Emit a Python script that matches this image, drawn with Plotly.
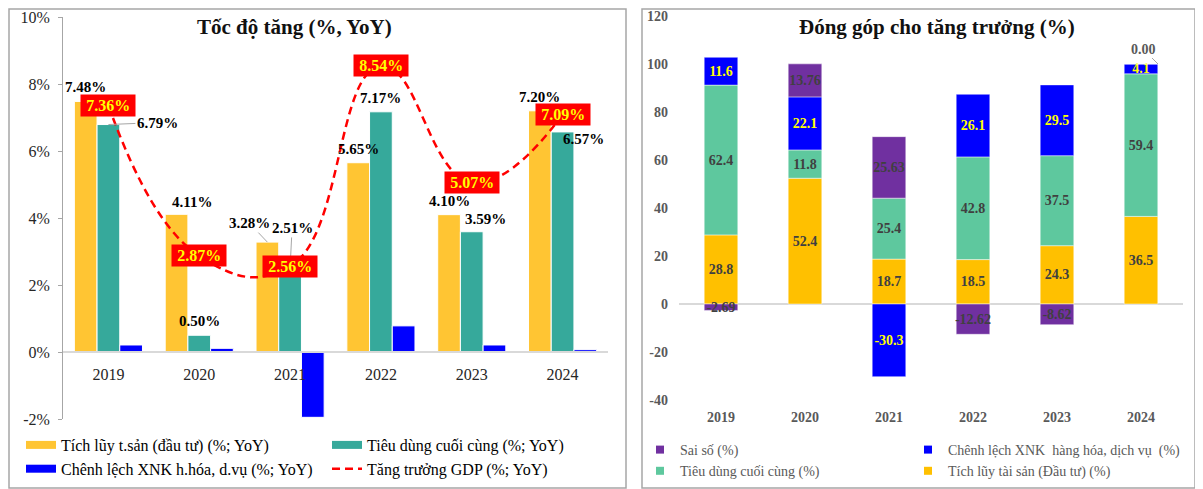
import plotly.graph_objects as go
import numpy as np

# ---------------- data ----------------
years = ['2019', '2020', '2021', '2022', '2023', '2024']

# Left chart: growth rates (%, YoY)
tich_luy_yoy = [7.48, 4.11, 3.28, 5.65, 4.10, 7.20]
tieu_dung_yoy = [6.79, 0.50, 2.51, 7.17, 3.59, 6.57]
xnk_yoy = [0.21, 0.11, -1.95, 0.78, 0.21, 0.07]
gdp_yoy = [7.36, 2.87, 2.56, 8.54, 5.07, 7.09]
left_ticks = [-2, 0, 2, 4, 6, 8, 10]

# Right chart: contribution to growth (%)
dg_tich_luy = [28.8, 52.4, 18.7, 18.5, 24.3, 36.5]
dg_tieu_dung = [62.4, 11.8, 25.4, 42.8, 37.5, 59.4]
dg_xnk = [11.6, 22.1, -30.3, 26.1, 29.5, 4.1]
dg_sai_so = [-2.69, 13.76, 25.63, -12.62, -8.62, 0.00]
right_ticks = [-40, -20, 0, 20, 40, 60, 80, 100, 120]

left_title = 'Tốc độ tăng (%, YoY)'
right_title = 'Đóng góp cho tăng trưởng (%)'

# ---------------- styling ----------------
OFF = 8                      # default page margin around the plot div
FW, FH = 1203 - OFF, 489 - OFF
SERIF = 'Liberation Serif, Times New Roman, serif'
C_YEL_L, C_TEAL_L, C_BLUE, C_RED = '#FFC533', '#36A99B', '#0000FF', '#FF0000'
C_YEL_R, C_TEAL_R, C_PURPLE = '#FFC000', '#5EC89E', '#7030A0'
DARK = '#404040'


def px(x):
    return (x - OFF) / FW


def py(y):
    return 1 - (y - OFF) / FH


fig = go.Figure()

# ---------------- left chart ----------------
for vals, col in [(tich_luy_yoy, C_YEL_L), (tieu_dung_yoy, C_TEAL_L), (xnk_yoy, C_BLUE)]:
    fig.add_trace(go.Bar(x=years, y=vals, marker=dict(color=col, line=dict(color='white', width=1)),
                         showlegend=False, xaxis='x', yaxis='y', hoverinfo='skip'))

# legend proxies (left)
fig.add_trace(go.Scatter(x=[None], y=[None], mode='lines', line=dict(color=C_YEL_L, width=8),
                         name='Tích lũy t.sản (đầu tư) (%; YoY)', legend='legend', xaxis='x', yaxis='y'))
fig.add_trace(go.Scatter(x=[None], y=[None], mode='lines', line=dict(color=C_BLUE, width=8),
                         name='Chênh lệch XNK h.hóa, d.vụ (%; YoY)', legend='legend', xaxis='x', yaxis='y'))
fig.add_trace(go.Scatter(x=[None], y=[None], mode='lines', line=dict(color=C_TEAL_L, width=8),
                         name='Tiêu dùng cuối cùng (%; YoY)', legend='legend2', xaxis='x', yaxis='y'))

fig.add_trace(go.Scatter(x=years, y=gdp_yoy, mode='lines', xaxis='x', yaxis='y',
                         line=dict(color=C_RED, width=2.5, dash='8px,5px', shape='spline', smoothing=1.3),
                         name='Tăng trưởng GDP (%; YoY)', legend='legend2', hoverinfo='skip'))

# ---------------- right chart (stacked) ----------------
pos = np.zeros(len(years))
neg = np.zeros(len(years))
right_series = [(dg_tich_luy, C_YEL_R, DARK, '{:.1f}'),
                (dg_tieu_dung, C_TEAL_R, DARK, '{:.1f}'),
                (dg_xnk, C_BLUE, '#FFFF00', '{:.1f}'),
                (dg_sai_so, C_PURPLE, DARK, '{:.2f}')]
for vals, col, tcol, fmt in right_series:
    v = np.array(vals, dtype=float)
    base = np.where(v >= 0, pos, neg)
    pos = pos + np.where(v >= 0, v, 0)
    neg = neg + np.where(v < 0, v, 0)
    texts = ['<b>' + fmt.format(a) + '</b>' if a != 0 else '' for a in v]
    fig.add_trace(go.Bar(x=years, y=v, base=base, width=0.4, offsetgroup='r',
                         marker=dict(color=col, line=dict(color='rgba(255,255,255,0.6)', width=0.8)),
                         text=texts, textposition='inside', insidetextanchor='middle', textangle=0,
                         textfont=dict(family=SERIF, size=14, color=tcol),
                         showlegend=False, xaxis='x2', yaxis='y2', hoverinfo='skip'))

# legend proxies (right)
for name, col, lg in [('Sai số (%)', C_PURPLE, 'legend3'),
                      ('Tiêu dùng cuối cùng (%)', C_TEAL_R, 'legend3'),
                      ('Chênh lệch XNK  hàng hóa, dịch vụ  (%)', C_BLUE, 'legend4'),
                      ('Tích lũy tài sản (Đầu tư) (%)', C_YEL_R, 'legend4')]:
    fig.add_trace(go.Scatter(x=[None], y=[None], mode='markers',
                             marker=dict(symbol='square', size=8, color=col),
                             name=name, legend=lg, xaxis='x2', yaxis='y2'))

# ---------------- annotations ----------------
ann = []
ann.append(dict(xref='paper', yref='paper', x=px(294), y=py(27), xanchor='center', yanchor='middle',
                text='<b>' + left_title + '</b>', showarrow=False,
                font=dict(family=SERIF, size=21, color='#111111')))
ann.append(dict(xref='paper', yref='paper', x=px(937), y=py(27), xanchor='center', yanchor='middle',
                text='<b>' + right_title + '</b>', showarrow=False,
                font=dict(family=SERIF, size=21, color='#111111')))

# left bar labels (x given as category index)
BAR_PX = (545 / 6) * (1 - 0.25) / 3
label_sets = [
    (tich_luy_yoy, -1, {1: (15, -12, False), 2: (-18, -19, True)}),
    (tieu_dung_yoy, 0, {0: (49, -2, True), 2: (2, -40, True), 4: (14, -13, False), 5: (21, 7, False)}),
]
for vals, shift, custom in label_sets:
    for i, v in enumerate(vals):
        dx, dy, arrow = custom.get(i, (0, -14, False))
        a = dict(x=i, y=v, xref='x', yref='y', text='<b>%.2f%%</b>' % v,
                 xanchor='center', yanchor='middle',
                 font=dict(family=SERIF, size=15, color='#000000'))
        if arrow:
            a.update(showarrow=True, arrowhead=0, arrowwidth=1, arrowcolor='#A6A6A6',
                     ax=dx, ay=dy, xshift=shift * BAR_PX, standoff=0)
        else:
            a.update(showarrow=False, xshift=shift * BAR_PX + dx, yshift=-dy)
        ann.append(a)

# GDP labels in red boxes
for i, v in enumerate(gdp_yoy):
    ann.append(dict(x=i, y=v, xref='x', yref='y', text='\u2009<b>%.2f%%</b>\u2009' % v, showarrow=False,
                    xanchor='center', yanchor='middle', bgcolor=C_RED, borderpad=2,
                    font=dict(family=SERIF, size=16, color='#FFFF00')))

# 0.00 label on 2024 Sai số (zero-height segment)
ann.append(dict(x=len(years) - 1, y=float(pos[-1]), xref='x2', yref='y2',
                text='<b>%.2f</b>' % dg_sai_so[-1], showarrow=True, arrowhead=0, arrowwidth=1,
                arrowcolor='#A6A6A6', ax=-15, ay=-15, xshift=17, standoff=0,
                font=dict(family=SERIF, size=14, color='#595959')))

legend_common = dict(xanchor='left', yanchor='top', orientation='v', bgcolor='rgba(0,0,0,0)',
                     borderwidth=0, itemclick=False, itemdoubleclick=False)

# ---------------- layout ----------------
fig.update_layout(
    template='none',
    width=FW, height=FH, margin=dict(l=0, r=0, t=0, b=0, pad=0, autoexpand=False),
    paper_bgcolor='white', plot_bgcolor='rgba(0,0,0,0)',
    font=dict(family=SERIF),
    barmode='group', bargap=0.25, bargroupgap=0,
    annotations=ann,
    xaxis=dict(domain=[px(63), px(608)], type='category', range=[-0.5, 5.5], anchor='free',
               position=py(352), automargin=False,
               showline=True, linecolor='#D9D9D9', linewidth=1.5, ticks='', showgrid=False,
               zeroline=False, tickfont=dict(family=SERIF, size=16, color='#262626'),
               ticklabelstandoff=8),
    yaxis=dict(domain=[py(419), py(17)], range=[-2, 10], tickmode='array', tickvals=left_ticks,
               ticktext=['%d%%' % t for t in left_ticks], automargin=False,
               showgrid=False, zeroline=False, showline=True, linecolor='#A6A6A6', linewidth=1,
               ticks='outside', ticklen=4, tickcolor='#A6A6A6', ticklabelstandoff=5,
               tickfont=dict(family=SERIF, size=16, color='#262626')),
    xaxis2=dict(domain=[px(679), px(1183)], type='category', range=[-0.5, 5.5], anchor='y2',
                automargin=False, showline=False, ticks='', showgrid=False, zeroline=False,
                ticklabelstandoff=7,
                tickfont=dict(family=SERIF, size=14, color='#595959', weight='bold')),
    yaxis2=dict(domain=[py(400), py(16)], range=[-40, 120], tickmode='array', tickvals=right_ticks,
                ticktext=[str(t) for t in right_ticks], anchor='x2', automargin=False,
                showgrid=False, zeroline=True, zerolinecolor='#D9D9D9', zerolinewidth=1.5,
                showline=False, ticks='', ticklabelstandoff=10,
                tickfont=dict(family=SERIF, size=14, color='#595959', weight='bold')),
    legend=dict(x=px(21), y=py(428), font=dict(family=SERIF, size=16, color='#000000'), **legend_common),
    legend2=dict(x=px(327), y=py(428), font=dict(family=SERIF, size=16, color='#000000'), **legend_common),
    legend3=dict(x=px(640), y=py(434), font=dict(family=SERIF, size=14, color='#595959'), **legend_common),
    legend4=dict(x=px(908), y=py(434), font=dict(family=SERIF, size=14, color='#595959'), **legend_common),
    uniformtext=dict(minsize=14, mode='show'),
    shapes=[
        dict(type='rect', xref='paper', yref='paper', x0=px(9), x1=px(626), y0=py(488), y1=py(9),
             line=dict(color='#A6A6A6', width=1.5), fillcolor='rgba(0,0,0,0)', layer='below'),
        dict(type='rect', xref='paper', yref='paper', x0=px(642), x1=px(1195), y0=py(488), y1=py(9),
             line=dict(color='#A6A6A6', width=1.5), fillcolor='rgba(0,0,0,0)', layer='below'),
    ],
)

fig.write_html('out.html')
